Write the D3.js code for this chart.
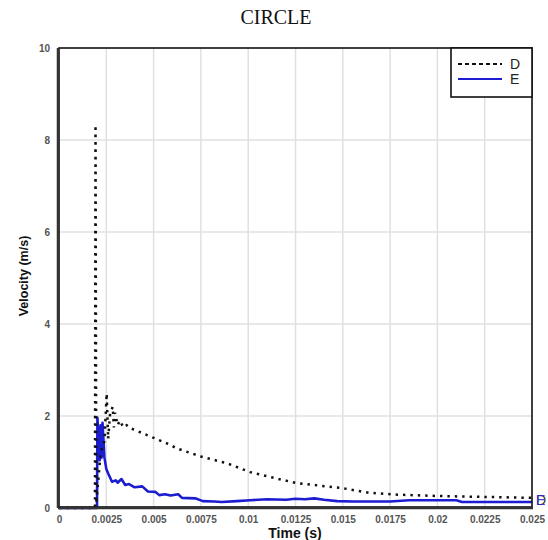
<!DOCTYPE html>
<html><head><meta charset="utf-8">
<script src="https://cdn.jsdelivr.net/npm/d3@7"></script>
<style>body{margin:0;background:#fff}svg{display:block}</style>
</head><body>
<svg id="c" width="548" height="540"></svg>
<script>
const title = "CIRCLE";
const xLabel = "Time (s)";
const yLabel = "Velocity (m/s)";
const seriesNames = ["D", "E"];
const xTicks = [0,0.0025,0.005,0.0075,0.01,0.0125,0.015,0.0175,0.02,0.0225,0.025];
const xTickLabels = ["0","0.0025","0.005","0.0075","0.01","0.0125","0.015","0.0175","0.02","0.0225","0.025"];
const yTicks = [0,2,4,6,8,10];
const dTime = [0,0.0019,0.00193,0.00197,0.0022,0.0024,0.00252,0.0026,0.0027,0.00284,0.0029,0.00296,0.0031,0.00322,0.0034,0.00358,0.00375,0.0048,0.0059,0.0062,0.0075,0.0089,0.0101,0.0116,0.0126,0.015,0.0164,0.0179,0.0201,0.0226,0.025];
const dVel  = [0,0,8.33,0.1,1.2,1.45,2.49,1.5,2.05,2.2,1.75,2.07,1.8,1.9,1.75,1.8,1.74,1.56,1.37,1.3,1.12,0.97,0.78,0.63,0.54,0.43,0.33,0.29,0.26,0.24,0.22];
const eTime = [0,0.00201,0.00203,0.0021,0.00216,0.0022,0.00226,0.0023,0.0024,0.0025,0.0026,0.0028,0.003,0.0031,0.0033,0.0035,0.0037,0.004,0.0044,0.0047,0.0051,0.0053,0.0056,0.0059,0.0063,0.0065,0.0072,0.0076,0.0082,0.0086,0.0094,0.0101,0.011,0.012,0.0125,0.013,0.0135,0.014,0.0147,0.0155,0.0175,0.0185,0.021,0.0213,0.025];
const eVel  = [0,0,1.96,1.5,1.04,1.8,1.1,1.85,1.1,0.85,0.75,0.57,0.6,0.55,0.63,0.5,0.52,0.45,0.47,0.36,0.35,0.28,0.3,0.27,0.3,0.22,0.21,0.15,0.14,0.13,0.15,0.17,0.19,0.18,0.2,0.19,0.21,0.18,0.15,0.14,0.14,0.17,0.17,0.13,0.13];

const svg = d3.select("#c");
const L = 59, R = 532, T = 48, B = 508;
const x = d3.scaleLinear().domain([0,0.025]).range([L,R]);
const y = d3.scaleLinear().domain([0,10]).range([B,T]);

// grid
svg.append("g").selectAll("line").data(xTicks.slice(1,-1)).join("line")
  .attr("x1",d=>x(d)).attr("x2",d=>x(d)).attr("y1",T).attr("y2",B)
  .attr("stroke","#e0e0e0").attr("stroke-width",1.5);
svg.append("g").selectAll("line").data(yTicks.slice(1,-1)).join("line")
  .attr("y1",d=>y(d)).attr("y2",d=>y(d)).attr("x1",L).attr("x2",R)
  .attr("stroke","#e0e0e0").attr("stroke-width",1.5);

// axes (labels only)
const xAxis = d3.axisBottom(x).tickValues(xTicks).tickFormat((d,i)=>xTickLabels[i]).tickSize(0).tickPadding(8);
const gx = svg.append("g").attr("transform",`translate(0,${B})`).call(xAxis);
gx.select(".domain").remove();
gx.selectAll("text").attr("font-family","Arial, Liberation Sans, sans-serif").attr("font-size",10).attr("font-weight","bold").attr("fill","#555");
const yAxis = d3.axisLeft(y).tickValues(yTicks).tickSize(0).tickPadding(9);
const gy = svg.append("g").attr("transform",`translate(${L},0)`).call(yAxis);
gy.select(".domain").remove();
gy.selectAll("text").attr("font-family","Arial, Liberation Sans, sans-serif").attr("font-size",10).attr("font-weight","bold").attr("fill","#555");

// lines
const dData = dTime.map((t,i)=>[t,dVel[i]]);
const eData = eTime.map((t,i)=>[t,eVel[i]]);
const line = d3.line().x(d=>x(d[0])).y(d=>y(d[1]));
svg.append("path").attr("d",line(eData)).attr("fill","none").attr("stroke","#1c1cd0").attr("stroke-width",2.6).attr("stroke-linejoin","round");
svg.append("path").attr("d",line(dData)).attr("fill","none").attr("stroke","#111").attr("stroke-width",2.5).attr("stroke-dasharray","2.4,5");

// frame
svg.append("rect").attr("x",L).attr("y",T).attr("width",R-L).attr("height",B-T-1)
  .attr("fill","none").attr("stroke","#111").attr("stroke-width",1.6);
svg.append("line").attr("x1",L-1).attr("x2",L-1).attr("y1",T).attr("y2",B).attr("stroke","#333").attr("stroke-width",2.5);
svg.append("line").attr("x1",L-1).attr("x2",R+1).attr("y1",B).attr("y2",B).attr("stroke","#333").attr("stroke-width",2.5);

// legend
const lg = svg.append("g");
lg.append("rect").attr("x",451).attr("y",T).attr("width",R-451).attr("height",49)
  .attr("fill","#fff").attr("stroke","#111").attr("stroke-width",1.6);
lg.append("line").attr("x1",458).attr("x2",502).attr("y1",64).attr("y2",64).attr("stroke","#111").attr("stroke-width",1.8).attr("stroke-dasharray","4,3");
lg.append("line").attr("x1",458).attr("x2",502).attr("y1",79).attr("y2",79).attr("stroke","#1c1cd0").attr("stroke-width",1.8);
lg.append("text").attr("x",510).attr("y",69).text(seriesNames[0]).attr("font-family","Arial, Liberation Sans, sans-serif").attr("font-size",14).attr("fill","#222");
lg.append("text").attr("x",510).attr("y",84).text(seriesNames[1]).attr("font-family","Arial, Liberation Sans, sans-serif").attr("font-size",14).attr("fill","#222");

// end labels
svg.append("text").attr("x",536).attr("y",505).text(seriesNames[0]).attr("font-family","Arial, Liberation Sans, sans-serif").attr("font-size",14).attr("fill","#333");
svg.append("text").attr("x",536).attr("y",505).text(seriesNames[1]).attr("font-family","Arial, Liberation Sans, sans-serif").attr("font-size",14).attr("fill","#2a2ad0").attr("opacity",0.85);

// titles
svg.append("text").attr("x",276).attr("y",24).attr("text-anchor","middle").text(title)
  .attr("font-family","Liberation Serif, Times New Roman, serif").attr("font-size",20).attr("fill","#111");
svg.append("text").attr("x",295).attr("y",538).attr("text-anchor","middle").text(xLabel)
  .attr("font-family","Arial, Liberation Sans, sans-serif").attr("font-size",14).attr("font-weight","bold").attr("fill","#111");
svg.append("text").attr("transform","translate(28,276) rotate(-90)").attr("text-anchor","middle").text(yLabel)
  .attr("font-family","Arial, Liberation Sans, sans-serif").attr("font-size",12.5).attr("font-weight","bold").attr("fill","#111");
</script>
</body></html>
